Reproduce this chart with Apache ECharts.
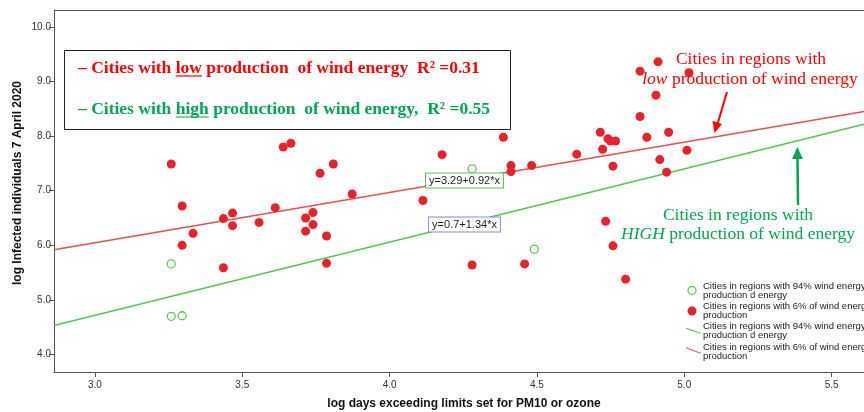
<!DOCTYPE html>
<html>
<head>
<meta charset="utf-8">
<script src="https://cdn.jsdelivr.net/npm/echarts@6/dist/echarts.min.js"></script>
<style>html,body{margin:0;padding:0;background:#fff}#c{width:864px;height:412px}</style>
</head>
<body>
<div id="c"></div>
<script>
// ---- data ----
const lowX = [3.296,3.333,3.296,3.436,3.467,3.467,3.557,3.612,3.436,3.259,3.639,3.665,3.715,3.740,3.740,3.715,3.786,3.786,3.764,3.809,3.873,4.386,4.178,4.412,4.412,4.482,4.635,4.113,4.280,4.458,4.911,4.850,5.016,4.904,4.850,4.715,4.947,4.741,4.750,4.767,4.873,4.723,5.009,4.917,4.758,4.940,4.733,4.758,4.801];
const lowY = [6.72,6.22,6.00,6.49,6.59,6.36,6.42,6.69,5.59,7.49,7.80,7.87,6.50,6.60,6.38,6.26,6.17,5.67,7.32,7.49,6.94,7.98,7.66,7.46,7.35,7.46,7.67,6.82,5.64,5.66,9.36,9.19,9.16,8.75,8.36,8.07,8.07,7.95,7.91,7.91,7.98,7.76,7.74,7.57,7.45,7.34,6.44,5.99,5.38];
const highX = [3.259,3.259,3.296,4.280,4.491];
const highY = [5.66,4.70,4.71,7.40,5.93];
const lowFitX = [2.861,5.61];
const lowFitY = [5.92,8.45];
const highFitX = [2.861,5.61];
const highFitY = [4.53,8.22];
const xTicks = [3.0,3.5,4.0,4.5,5.0,5.5];
const yTicks = [4.0,5.0,6.0,7.0,8.0,9.0,10.0];
const lowEq = 'y=3.29+0.92*x';
const highEq = 'y=0.7+1.34*x';
const boxLine1 = '– Cities with low production  of wind energy  R² =0.31';
const boxLine2 = '– Cities with high production  of wind energy,  R² =0.55';
const legendNames = [
  'Cities in regions with 94% wind energy\nproduction d energy',
  'Cities in regions with 6% of wind energy\nproduction',
  'Cities in regions with 94% wind energy\nproduction d energy',
  'Cities in regions with 6% of wind energy\nproduction'
];
const xName = 'log days exceeding limits set for PM10 or ozone';
const yName = 'log Infected individuals 7 April 2020';

const zip = (a,b) => a.map((v,i)=>[v,b[i]]);

const RED = '#e8222b', GREEN = '#00a650';
const boxFont = 'bold 17.5px "Liberation Serif"';
const ctx = document.createElement('canvas').getContext('2d');
ctx.font = boxFont;
function underline(line, word, x0, y, color){
  const idx = line.indexOf(' ' + word + ' ') + 1;
  const a = x0 + ctx.measureText(line.slice(0, idx)).width;
  const w = ctx.measureText(word).width;
  return {type:'line', shape:{x1:a, y1:y, x2:a+w, y2:y}, style:{stroke:color, lineWidth:1.2}, z:101};
}

const serifAnn = 'normal 17.5px "Liberation Serif"';
const graphics = [
  // top border of plot
  {type:'line', shape:{x1:54,y1:10.5,x2:864,y2:10.5}, style:{stroke:'#555',lineWidth:1}},
  // legend box
  {type:'rect', shape:{x:64.5,y:50.5,width:446,height:79}, style:{fill:'#fff',stroke:'#222',lineWidth:1}, z:100},
  {type:'text', x:78, y:68, style:{text:boxLine1, fill:'#ff0000', font:boxFont, textVerticalAlign:'middle'}, z:101},
  {type:'text', x:78, y:109, style:{text:boxLine2, fill:GREEN, font:boxFont, textVerticalAlign:'middle'}, z:101},
  underline(boxLine1,'low',78,76,'#ff0000'),
  underline(boxLine2,'high',78,117,GREEN),
  // right annotations
  {type:'text', x:751, y:59, style:{text:'Cities in regions with', fill:'#ff0000', font:serifAnn, textAlign:'center', textVerticalAlign:'middle'}, z:101},
  {type:'text', x:750, y:79, style:{text:'{i|low} production of wind energy', fill:'#ff0000', font:serifAnn, textAlign:'center', textVerticalAlign:'middle', rich:{i:{fontStyle:'italic', fontFamily:'Liberation Serif', fontSize:17.5, fill:'#ff0000'}}}, z:101},
  {type:'text', x:738, y:215, style:{text:'Cities in regions with', fill:GREEN, font:serifAnn, textAlign:'center', textVerticalAlign:'middle'}, z:101},
  {type:'text', x:738, y:234, style:{text:'{i|HIGH} production of wind energy', fill:GREEN, font:serifAnn, textAlign:'center', textVerticalAlign:'middle', rich:{i:{fontStyle:'italic', fontFamily:'Liberation Serif', fontSize:17.5, fill:GREEN}}}, z:101},
  // arrows
  {type:'line', shape:{x1:727,y1:92,x2:717.5,y2:124}, style:{stroke:'#ff0000',lineWidth:2}, z:101},
  {type:'polygon', shape:{points:[[714.5,133],[712.5,121],[722,124]]}, style:{fill:'#ff0000'}, z:101},
  {type:'line', shape:{x1:798,y1:205,x2:797.5,y2:157}, style:{stroke:GREEN,lineWidth:2.5}, z:101},
  {type:'polygon', shape:{points:[[797.3,147],[792,159],[803,159]]}, style:{fill:GREEN}, z:101},
  // equation labels
  {type:'text', x:464.5, y:180.5, style:{text:lowEq, font:'11px "Liberation Sans"', fill:'#222', textAlign:'center', textVerticalAlign:'middle', backgroundColor:'#fff', borderColor:'#5cbf5c', borderWidth:1, padding:[2,3,1,3]}, z:50},
  {type:'text', x:464.5, y:224.5, style:{text:highEq, font:'11px "Liberation Sans"', fill:'#222', textAlign:'center', textVerticalAlign:'middle', backgroundColor:'#fff', borderColor:'#7f8fd0', borderWidth:1, padding:[2,3,1,3]}, z:50},
  // axis names
  {type:'text', x:464, y:404, style:{text:xName, font:'bold 12px "Liberation Sans"', fill:'#111', textAlign:'center', textVerticalAlign:'middle'}},
  {type:'text', x:18, y:183, rotation:Math.PI/2, style:{text:yName, font:'bold 12px "Liberation Sans"', fill:'#111', textAlign:'center', textVerticalAlign:'middle'}},
  // bottom-right legend
  {type:'circle', shape:{cx:692,cy:290.5,r:4}, style:{fill:'#fff',stroke:'#5cc85c',lineWidth:1.3}, z:60},
  {type:'circle', shape:{cx:692,cy:311,r:4.5}, style:{fill:RED}, z:60},
  {type:'line', shape:{x1:686,y1:328.3,x2:700.7,y2:333.3}, style:{stroke:'#55c455',lineWidth:1.2}, z:60},
  {type:'line', shape:{x1:686,y1:347.7,x2:700.7,y2:353.3}, style:{stroke:'#f05a5a',lineWidth:1.2}, z:60}
];
const legY = [287.3, 306.7, 327.3, 347.7];
legendNames.forEach((t,i)=>{
  graphics.push({type:'text', x:703, y:legY[i]-5, style:{text:t, font:'9.5px "Liberation Sans"', fill:'#222', lineHeight:9}, z:60});
});

const chart = echarts.init(document.getElementById('c'), null, {renderer:'canvas'});
chart.setOption({
  animation:false,
  backgroundColor:'#fff',
  grid:{left:54, top:10, right:0, bottom:40},
  xAxis:{type:'value', min:2.861, max:5.61,
    axisLine:{show:true, onZero:false, lineStyle:{color:'#555',width:1}},
    axisTick:{show:true, length:5, customValues:xTicks, lineStyle:{color:'#555'}},
    axisLabel:{customValues:xTicks, formatter:v=>v.toFixed(1), color:'#333', fontSize:10, fontFamily:'Liberation Sans', margin:8},
    splitLine:{show:false}},
  yAxis:{type:'value', min:3.68, max:10.31,
    axisLine:{show:true, onZero:false, lineStyle:{color:'#555',width:1}},
    axisTick:{show:true, length:5, customValues:yTicks, lineStyle:{color:'#555'}},
    axisLabel:{customValues:yTicks, formatter:v=>v.toFixed(1), color:'#333', fontSize:10, fontFamily:'Liberation Sans', margin:3},
    splitLine:{show:false}},
  series:[
    {type:'line', data:zip(lowFitX,lowFitY), showSymbol:false, lineStyle:{color:'#f04a4a',width:1.5}, z:2},
    {type:'line', data:zip(highFitX,highFitY), showSymbol:false, lineStyle:{color:'#55c455',width:1.5}, z:2},
    {type:'scatter', data:zip(lowX,lowY), symbol:'circle', symbolSize:9, itemStyle:{color:RED, opacity:1}, z:3},
    {type:'scatter', data:zip(highX,highY), symbol:'circle', symbolSize:8, itemStyle:{color:'#fff', borderColor:'#5cc85c', borderWidth:1.3, opacity:1}, z:3}
  ],
  graphic:graphics
});
</script>
</body>
</html>
